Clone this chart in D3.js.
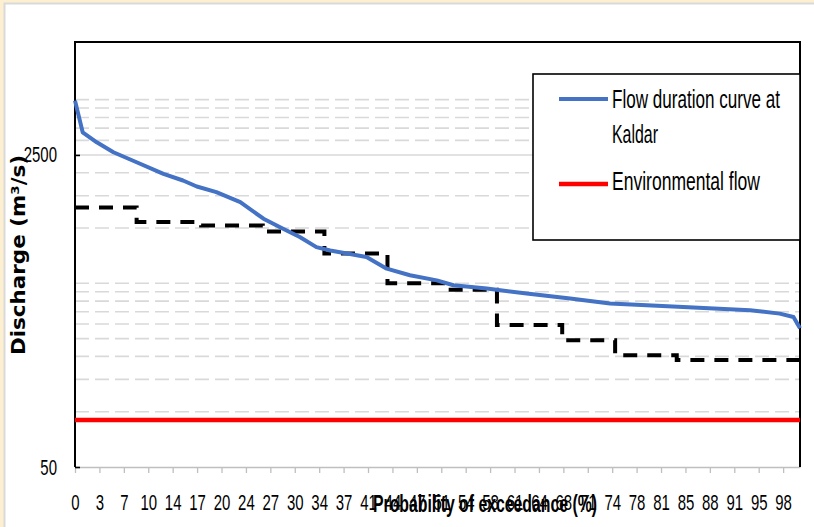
<!DOCTYPE html>
<html>
<head>
<meta charset="utf-8">
<script src="https://cdn.jsdelivr.net/npm/d3@7"></script>
<style>
  html, body { margin: 0; padding: 0; background: #fff; }
  svg { display: block; }
</style>
</head>
<body>
<svg id="chart" width="814" height="527"></svg>
<script>
// ---------------- DATA ----------------
// Flow duration curve at Kaldar: probability of exceedance (%) and discharge (m3/s)
const fdcProb = [0, 1.06, 3.0, 5.3, 8.5, 12.2, 14.9, 16.8, 19.5, 22.8, 26.0, 28.7, 31.0, 33.3, 35.2, 40.2, 43.0, 46.2, 49.9, 52.2, 56.8, 62.3, 68.3, 73.8, 83.9, 93.1, 97.2, 99.1, 100];
const fdcFlow = [4940, 3320, 2930, 2585, 2281, 1972, 1815, 1683, 1567, 1383, 1124, 991, 893, 787, 755, 695, 601, 553, 519, 488, 468, 440, 413, 388, 372, 357, 342, 328, 285];

// Step (dashed) series: start of each step (probability %) and its discharge
const stepProb = [0, 8.5, 17.4, 25.9, 34.4, 43.1, 51.4, 58.2, 67.2, 74.5, 83.0, 91.7, 100];
const stepFlow = [1294, 1077, 1033, 958, 727, 500, 461, 297, 245, 203, 191, 191, 191];

// Environmental flow (constant)
const envProb = [0, 100];
const envFlow = [90, 90];

// Axis labels
const xTickLabels = ["0","3","7","10","14","17","20","24","27","30","34","37","41","44","47","51","54","58","61","64","68","71","74","78","81","85","88","91","95","98"];
const xTickStep = 3.368;
const yMajorTicks = [50, 2500];
const yMinorGrid = [100,150,200,250,300,350,400,450,500,1000,1500,2000,3000,3500,4000,4500,5000];
const yDomain = [50, 10300];

const legendLabels = [["Flow duration curve at", "Kaldar"], ["Environmental flow"]];
const xTitle = "Probability of exceedance (%)";
const yTitle = "Discharge (m³/s)";

// ---------------- LAYOUT ----------------
const svg = d3.select("#chart");
const L = 75, R = 800, T = 42, B = 467;
const font = "'Liberation Sans', Arial, sans-serif";
const SX = 0.68; // horizontal condensing of label text

const x = d3.scaleLinear().domain([0, 100]).range([L, R]);
const y = d3.scaleLog().domain(yDomain).range([B, T]);

// background + frame
svg.append("rect").attr("width", 814).attr("height", 527).attr("fill", "#fdf0d0");
svg.append("rect").attr("x", 4.5).attr("y", 3.5).attr("width", 820).attr("height", 540)
  .attr("fill", "#ffffff").attr("stroke", "#d9d9d9").attr("stroke-width", 2);

// minor grid (dashed)
svg.append("g").selectAll("line").data(yMinorGrid).join("line")
  .attr("x1", L).attr("x2", R)
  .attr("y1", d => y(d)).attr("y2", d => y(d))
  .attr("stroke", "#d9d9d9").attr("stroke-width", 1.6)
  .attr("stroke-dasharray", "14,6");

// major grid
svg.append("g").selectAll("line").data(yMajorTicks.filter(d => d > yDomain[0])).join("line")
  .attr("x1", L).attr("x2", R)
  .attr("y1", d => y(d)).attr("y2", d => y(d))
  .attr("stroke", "#d9d9d9").attr("stroke-width", 1.6);

// x axis (bottom, grey)
const xTickVals = xTickLabels.map((d, i) => i * xTickStep);
const xAxis = d3.axisBottom(x).tickValues(xTickVals)
  .tickFormat((d, i) => xTickLabels[i]).tickSize(6).tickSizeOuter(0).tickPadding(21);
const gx = svg.append("g").attr("transform", `translate(0,${B})`).call(xAxis);
gx.select(".domain").attr("stroke", "#bfbfbf").attr("stroke-width", 1.6);
gx.selectAll(".tick line").attr("stroke", "#bfbfbf").attr("stroke-width", 1.3);
gx.selectAll(".tick text").attr("font-family", font).attr("font-size", 22).attr("fill", "#000")
  .attr("transform", `scale(${SX},1)`);

// y axis (left)
const yAxis = d3.axisLeft(y).tickValues(yMajorTicks).tickFormat(d3.format("d"))
  .tickSize(-5).tickSizeOuter(0);
const gy = svg.append("g").attr("transform", `translate(${L},0)`).call(yAxis);
gy.select(".domain").remove();
gy.selectAll(".tick line").attr("stroke", "#000").attr("stroke-width", 1.6);
gy.selectAll(".tick text").attr("font-family", font).attr("font-size", 22).attr("fill", "#000")
  .attr("x", -18 / SX).attr("transform", `scale(${SX},1)`);

// plot frame (left, top, right in black)
svg.append("path")
  .attr("d", `M${L},${B} V${T} H${R} V${B}`)
  .attr("fill", "none").attr("stroke", "#000").attr("stroke-width", 2);

// series
svg.append("path")
  .datum(envProb.map((p, i) => [p, envFlow[i]]))
  .attr("d", d3.line().x(d => x(d[0])).y(d => y(d[1])))
  .attr("fill", "none").attr("stroke", "#ff0000").attr("stroke-width", 4.5);

svg.append("path")
  .datum(stepProb.map((p, i) => [p, stepFlow[i]]))
  .attr("d", d3.line().x(d => x(d[0])).y(d => y(d[1])).curve(d3.curveStepAfter))
  .attr("fill", "none")
  .attr("stroke", "#000").attr("stroke-width", 4).attr("stroke-dasharray", "14,10");

svg.append("path")
  .datum(fdcProb.map((p, i) => [p, fdcFlow[i]]))
  .attr("d", d3.line().x(d => x(d[0])).y(d => y(d[1])))
  .attr("fill", "none")
  .attr("stroke", "#4472c4").attr("stroke-width", 4).attr("stroke-linejoin", "round");

// titles
svg.append("text").text(yTitle)
  .attr("transform", "translate(25,255) rotate(-90)")
  .attr("text-anchor", "middle")
  .attr("font-family", "'DejaVu Sans', Verdana, sans-serif").attr("font-weight", "bold")
  .attr("font-size", 19).attr("fill", "#000")
  .attr("textLength", 200).attr("lengthAdjust", "spacingAndGlyphs");

svg.append("text").text(xTitle)
  .attr("x", 485).attr("y", 512).attr("text-anchor", "middle")
  .attr("font-family", font).attr("font-weight", "bold")
  .attr("font-size", 23).attr("fill", "#000")
  .attr("textLength", 224).attr("lengthAdjust", "spacingAndGlyphs");

// legend
const lg = svg.append("g");
lg.append("rect").attr("x", 533).attr("y", 74).attr("width", 267).attr("height", 166)
  .attr("fill", "#fff").attr("stroke", "#000").attr("stroke-width", 1.6);
lg.append("line").attr("x1", 559).attr("x2", 608).attr("y1", 99).attr("y2", 99)
  .attr("stroke", "#4472c4").attr("stroke-width", 4);
lg.append("line").attr("x1", 559).attr("x2", 608).attr("y1", 184).attr("y2", 184)
  .attr("stroke", "#ff0000").attr("stroke-width", 4.5);
const lt = [[legendLabels[0][0], 108, 168], [legendLabels[0][1], 143, 46], [legendLabels[1][0], 190, 148]];
lt.forEach(([t, yy, len]) => {
  lg.append("text").text(t).attr("x", 612).attr("y", yy)
    .attr("font-family", font).attr("font-size", 25).attr("fill", "#000")
    .attr("textLength", len).attr("lengthAdjust", "spacingAndGlyphs");
});
</script>
</body>
</html>
